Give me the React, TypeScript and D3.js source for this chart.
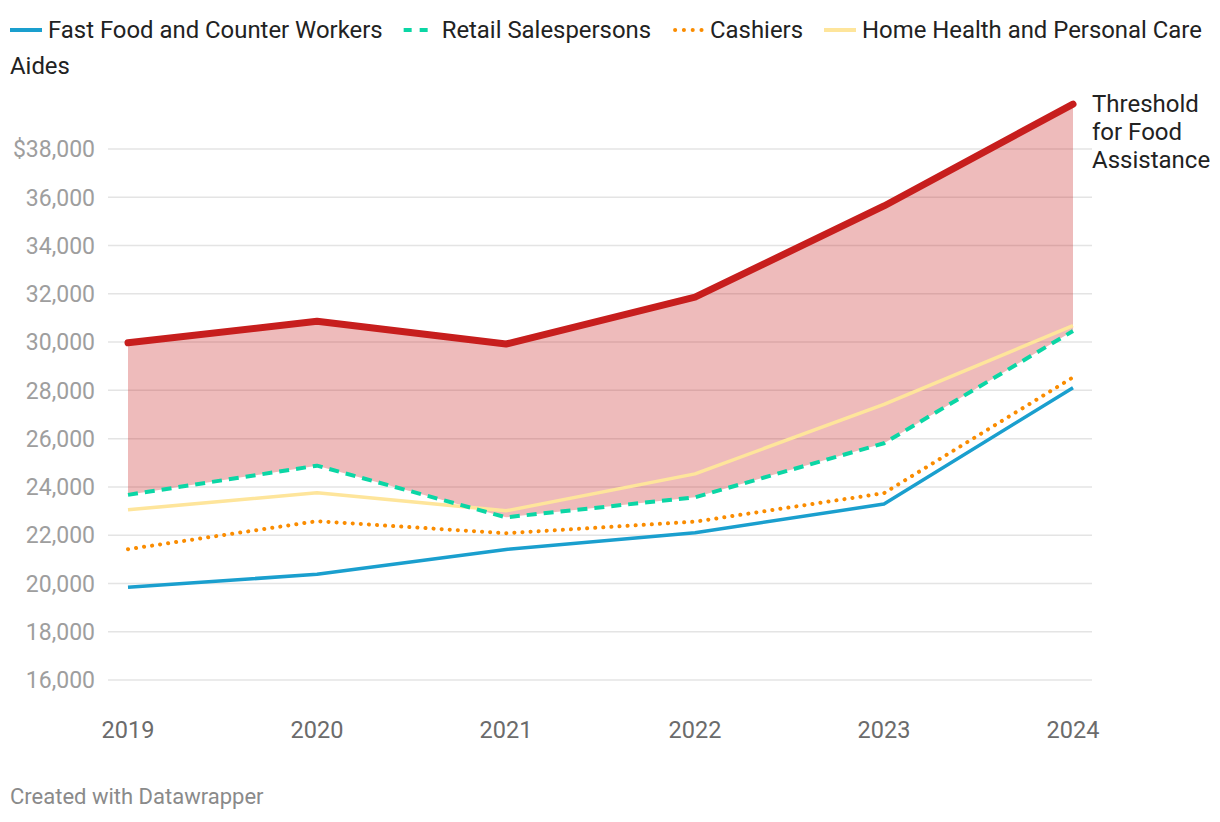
import React, { useEffect, useRef } from "react";
import * as d3 from "d3";

const years = [2019, 2020, 2021, 2022, 2023, 2024];
const threshold = [29970, 30860, 29920, 31860, 35640, 39860];
const fastFood = [19840, 20380, 21410, 22100, 23290, 28110];
const retail = [23670, 24880, 22740, 23570, 25810, 30460];
const cashiers = [21420, 22580, 22080, 22560, 23740, 28540];
const homeHealth = [23050, 23760, 23010, 24540, 27420, 30680];
const yTicks = [16000, 18000, 20000, 22000, 24000, 26000, 28000, 30000, 32000, 34000, 36000, 38000];

const seriesList = [
  { name: "Fast Food and Counter Workers", values: fastFood, color: "#1a9fce", dash: "", legendDash: "", width: 3.5, cap: "butt" },
  { name: "Retail Salespersons", values: retail, color: "#0bd6a5", dash: "10 7", legendDash: "8 8", width: 4, cap: "butt" },
  { name: "Cashiers", values: cashiers, color: "#fa8c00", dash: "0.1 8", legendDash: "0.1 8.7", width: 4, cap: "round" },
  { name: "Home Health and Personal Care", values: homeHealth, color: "#fee59b", dash: "", legendDash: "", width: 3.5, cap: "butt" },
];

const W = 1220;
const H = 822;
const FONT = "Roboto, 'Noto Sans', sans-serif";

export default function App() {
  const ref = useRef<SVGSVGElement | null>(null);

  useEffect(() => {
    const svg = d3.select(ref.current);
    svg.selectAll("*").remove();

    const x = d3.scalePoint<number>().domain(years).range([128, 1073]);
    const y = d3.scaleLinear().domain([16000, 38000]).range([680, 149]);

    svg
      .append("g")
      .selectAll("line")
      .data(yTicks)
      .join("line")
      .attr("x1", 108)
      .attr("x2", 1092)
      .attr("y1", (d) => y(d))
      .attr("y2", (d) => y(d))
      .attr("stroke", "#e4e4e4")
      .attr("stroke-width", 1.5);

    svg
      .append("g")
      .selectAll("text")
      .data(yTicks)
      .join("text")
      .attr("x", 95)
      .attr("y", (d) => y(d))
      .attr("dy", "0.36em")
      .attr("text-anchor", "end")
      .attr("font-family", FONT)
      .attr("font-size", 23)
      .attr("fill", "#9e9e9e")
      .text((d, i) => (i === yTicks.length - 1 ? "$" : "") + d3.format(",")(d));

    svg
      .append("g")
      .selectAll("text")
      .data(years)
      .join("text")
      .attr("x", (d) => x(d)!)
      .attr("y", 738)
      .attr("text-anchor", "middle")
      .attr("font-family", FONT)
      .attr("font-size", 23.5)
      .attr("fill", "#6b6b6b")
      .text((d) => String(d));

    const area = d3
      .area<number>()
      .x((d, i) => x(years[i])!)
      .y0((d, i) => y(retail[i]))
      .y1((d) => y(d));
    svg
      .append("path")
      .datum(threshold)
      .attr("d", area)
      .attr("fill", "#c71e1d")
      .attr("fill-opacity", 0.3);

    const line = d3
      .line<number>()
      .x((d, i) => x(years[i])!)
      .y((d) => y(d));

    const order = [0, 2, 3, 1];
    order.forEach((k) => {
      const s = seriesList[k];
      svg
        .append("path")
        .datum(s.values)
        .attr("d", line)
        .attr("fill", "none")
        .attr("stroke", s.color)
        .attr("stroke-width", s.width)
        .attr("stroke-dasharray", s.dash || null)
        .attr("stroke-linecap", s.cap)
        .attr("stroke-linejoin", "round");
    });

    svg
      .append("path")
      .datum(threshold)
      .attr("d", line)
      .attr("fill", "none")
      .attr("stroke", "#c71e1d")
      .attr("stroke-width", 7)
      .attr("stroke-linecap", "round")
      .attr("stroke-linejoin", "round");

    const ann = svg
      .append("text")
      .attr("x", 1092)
      .attr("y", 112)
      .attr("font-family", FONT)
      .attr("font-size", 24)
      .attr("fill", "#222");
    ["Threshold", "for Food", "Assistance"].forEach((t, i) => {
      ann
        .append("tspan")
        .attr("x", 1092)
        .attr("dy", i === 0 ? 0 : 28)
        .text(t);
    });

    const lg = svg.append("g");
    let cx = 10;
    const ly = 30;
    seriesList.forEach((s, i) => {
      lg.append("line")
        .attr("x1", cx + (s.cap === "round" ? 3 : 0))
        .attr("x2", cx + (s.cap === "round" ? 30 : 32))
        .attr("y1", ly)
        .attr("y2", ly)
        .attr("stroke", s.color)
        .attr("stroke-width", 4)
        .attr("stroke-dasharray", s.legendDash || null)
        .attr("stroke-linecap", s.cap);
      const t = lg
        .append("text")
        .attr("x", cx + 38)
        .attr("y", ly)
        .attr("dy", "0.35em")
        .attr("font-family", FONT)
        .attr("font-size", 23.9)
        .attr("fill", "#222")
        .text(s.name);
      const w = (t.node() as SVGTextElement).getComputedTextLength();
      cx = cx + 38 + w + 21;
      if (i === seriesList.length - 1) {
        lg.append("text")
          .attr("x", 10)
          .attr("y", 66)
          .attr("dy", "0.35em")
          .attr("font-family", FONT)
          .attr("font-size", 23.9)
          .attr("fill", "#222")
          .text("Aides");
      }
    });

    svg
      .append("text")
      .attr("x", 10)
      .attr("y", 804)
      .attr("font-family", FONT)
      .attr("font-size", 22)
      .attr("fill", "#8a8a8a")
      .text("Created with Datawrapper");
  }, []);

  return (
    <svg
      ref={ref}
      width={W}
      height={H}
      style={{ position: "absolute", left: 0, top: 0, background: "#fff" }}
    />
  );
}
